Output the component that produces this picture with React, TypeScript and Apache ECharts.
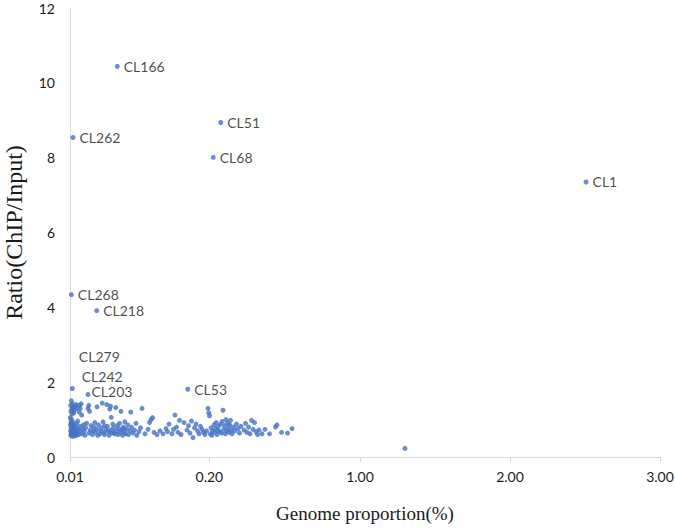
import React, { useEffect, useRef } from "react";
import * as echarts from "echarts";

// x positions are in axis units (evenly spaced display scale); labels below name them
const xTickPositions = [0, 0.929, 1.933, 2.933, 3.933];
const xTickLabels = ["0.01", "0.20", "1.00", "2.00", "3.00"];
const yTicks = [0, 2, 4, 6, 8, 10, 12];

const labeledNames = ["CL166", "CL51", "CL262", "CL68", "CL1", "CL268", "CL218", "CL279", "CL242", "CL203", "CL53"];
const labeledX = [0.315, 1.005, 0.02, 0.955, 3.44, 0.009, 0.178, 0.009, 0.015, 0.12, 0.785];
const labeledY = [10.44, 8.94, 8.54, 8.01, 7.35, 4.34, 3.91, 1.5, 1.83, 1.67, 1.81];

const otherPoints: [number, number][] = [
  [2.233, 0.23],
  // dense column near the left axis
  [0.005, 0.58], [0.008, 0.62], [0.01, 0.66], [0.004, 0.7], [0.012, 0.74], [0.006, 0.78], [0.015, 0.82],
  [0.003, 0.86], [0.01, 0.9], [0.018, 0.6], [0.02, 0.68], [0.022, 0.76], [0.025, 0.84], [0.007, 0.94],
  [0.014, 1.15], [0.006, 1.22], [0.012, 1.28], [0.02, 1.32], [0.004, 1.38], [0.016, 1.42], [0.03, 1.25],
  [0.035, 1.35], [0.04, 1.4], [0.028, 0.64], [0.033, 0.72], [0.038, 0.8], [0.042, 0.58], [0.045, 0.88],
  [0.05, 0.66], [0.055, 0.75], [0.048, 1.3], [0.06, 1.38], [0.058, 0.6], [0.065, 0.7], [0.07, 0.82],
  [0.062, 1.2], [0.075, 1.42], [0.08, 0.62], [0.085, 0.74], [0.09, 0.86], [0.078, 1.12], [0.095, 0.68],
  [0.002, 1.05], [0.011, 1.0], [0.024, 0.92], [0.03, 0.56], [0.016, 0.55], [0.052, 0.96], [0.068, 1.3],
  [0.026, 1.18], [0.044, 0.62], [0.036, 0.68],
  // 0.1 - 0.45
  [0.1, 0.58], [0.105, 0.78], [0.11, 0.9], [0.12, 1.3], [0.125, 1.38], [0.13, 1.22], [0.128, 0.64],
  [0.135, 0.72], [0.14, 0.84], [0.15, 0.6], [0.155, 0.7], [0.16, 0.8], [0.165, 0.92], [0.17, 0.66],
  [0.18, 0.74], [0.185, 0.58], [0.19, 0.86], [0.2, 0.62], [0.205, 0.7], [0.21, 0.78], [0.215, 1.44],
  [0.22, 0.94], [0.225, 0.66], [0.23, 0.6], [0.24, 0.74], [0.245, 1.4], [0.25, 0.82], [0.255, 0.68],
  [0.26, 0.58], [0.265, 1.28], [0.27, 0.72], [0.275, 1.06], [0.28, 0.64], [0.285, 0.88], [0.29, 0.78],
  [0.3, 0.62], [0.305, 1.32], [0.31, 0.7], [0.315, 0.84], [0.32, 0.6], [0.325, 0.76], [0.33, 0.9],
  [0.335, 0.66], [0.34, 1.22], [0.345, 0.72], [0.35, 0.58], [0.355, 0.8], [0.36, 0.68], [0.365, 0.94],
  [0.37, 0.62], [0.38, 0.74], [0.385, 0.86], [0.39, 0.6], [0.4, 0.7], [0.405, 1.2], [0.41, 0.8],
  [0.42, 0.64], [0.43, 0.72], [0.44, 0.9], [0.445, 0.58], [0.18, 1.34], [0.23, 0.84], [0.29, 0.66],
  [0.36, 0.76], [0.27, 1.36],
  // 0.45 - 0.75
  [0.46, 0.68], [0.47, 0.78], [0.48, 1.3], [0.5, 0.62], [0.52, 0.74], [0.53, 0.92], [0.54, 1.0],
  [0.55, 1.05], [0.56, 0.66], [0.58, 0.6], [0.6, 0.7], [0.62, 0.62], [0.64, 0.76], [0.65, 0.68],
  [0.66, 0.88], [0.68, 0.62], [0.69, 0.74], [0.7, 1.12], [0.71, 0.8], [0.72, 0.66], [0.73, 0.98],
  [0.74, 0.6],
  // 0.75 - 0.95
  [0.76, 0.92], [0.78, 0.72], [0.79, 0.84], [0.8, 0.64], [0.81, 0.96], [0.82, 0.52], [0.83, 0.78],
  [0.84, 0.88], [0.85, 0.7], [0.86, 0.62], [0.87, 0.82], [0.88, 0.74], [0.89, 0.66], [0.9, 0.6],
  [0.91, 0.7], [0.92, 1.3], [0.925, 1.18], [0.93, 1.1], [0.935, 0.62], [0.94, 0.78], [0.945, 0.58],
  [0.95, 0.7],
  // 0.95 - 1.15
  [0.96, 0.86], [0.965, 0.66], [0.97, 0.76], [0.975, 0.92], [0.98, 0.6], [0.985, 0.72], [0.99, 0.82],
  [1.0, 0.68], [1.005, 0.88], [1.01, 0.64], [1.015, 0.95], [1.02, 1.25], [1.025, 0.74], [1.03, 0.84],
  [1.035, 0.62], [1.04, 1.0], [1.045, 0.7], [1.05, 0.9], [1.055, 0.78], [1.06, 0.66], [1.065, 0.86],
  [1.07, 0.98], [1.075, 0.72], [1.08, 0.62], [1.09, 0.8], [1.1, 0.7], [1.11, 0.88], [1.12, 0.76],
  [1.13, 0.64], [1.14, 0.82],
  // 1.15 - 1.5
  [1.16, 0.72], [1.17, 0.9], [1.18, 0.66], [1.19, 0.8], [1.2, 0.62], [1.21, 0.98], [1.22, 0.74],
  [1.23, 0.92], [1.24, 0.68], [1.25, 0.6], [1.26, 0.72], [1.28, 0.62], [1.3, 0.74], [1.33, 0.62],
  [1.37, 0.8], [1.38, 0.86], [1.41, 0.66], [1.45, 0.64], [1.48, 0.76],
];

const labelOffsets: Record<string, [number, number]> = {
  CL279: [1, -44],
  CL242: [3, -12],
  CL203: [-3, -3],
};

export default function App() {
  const ref = useRef<HTMLDivElement>(null);
  useEffect(() => {
    if (!ref.current) return;
    document.body.style.margin = "0";
    document.body.style.overflow = "hidden";
    const chart = echarts.init(ref.current, undefined, { renderer: "svg" });
    const labeledData = labeledNames.map((n, i) => ({
      name: n,
      value: [labeledX[i], labeledY[i]],
      label: labelOffsets[n] ? { offset: labelOffsets[n] } : undefined,
    }));
    const dotColor = "#4472C4";
    const tickFont = { fontFamily: "Lato, 'Open Sans', sans-serif", fontSize: 14, color: "#1a1a1a" };
    chart.setOption({
      animation: false,
      backgroundColor: "#ffffff",
      grid: { left: 70, right: 15, top: 8, bottom: 72, containLabel: false, outerBoundsMode: "none" },
      xAxis: {
        type: "value",
        min: 0,
        max: xTickPositions[xTickPositions.length - 1],
        name: "Genome proportion(%)",
        nameLocation: "middle",
        nameGap: 47,
        nameTextStyle: { fontFamily: "'Liberation Serif', 'Times New Roman', serif", fontSize: 19, color: "#1a1a1a" },
        axisLine: { show: true, lineStyle: { color: "#d9d9d9", width: 1 } },
        axisTick: { show: true, customValues: xTickPositions, length: 5, lineStyle: { color: "#d9d9d9" } },
        axisLabel: {
          customValues: xTickPositions,
          margin: 12,
          ...tickFont,
          formatter: (v: number) => {
            let best = 0;
            xTickPositions.forEach((p, i) => {
              if (Math.abs(p - v) < Math.abs(xTickPositions[best] - v)) best = i;
            });
            return xTickLabels[best];
          },
        },
        splitLine: { show: false },
      },
      yAxis: {
        type: "value",
        min: yTicks[0],
        max: yTicks[yTicks.length - 1],
        interval: 2,
        name: "Ratio(ChIP/Input)",
        nameLocation: "middle",
        nameGap: 44,
        nameTextStyle: { fontFamily: "'Liberation Serif', 'Times New Roman', serif", fontSize: 24, color: "#1a1a1a" },
        axisLine: { show: true, lineStyle: { color: "#d9d9d9", width: 1 } },
        axisTick: { show: false },
        axisLabel: { margin: 15, ...tickFont },
        splitLine: { show: false },
      },
      series: [
        {
          type: "scatter",
          symbolSize: 5,
          itemStyle: { color: dotColor },
          data: otherPoints,
        },
        {
          type: "scatter",
          symbolSize: 5,
          itemStyle: { color: dotColor },
          label: {
            show: true,
            position: "right",
            distance: 4,
            formatter: "{b}",
            ...tickFont,
          },
          data: labeledData,
        },
      ],
    });
    return () => chart.dispose();
  }, []);
  return <div ref={ref} style={{ width: 675, height: 529 }} />;
}
